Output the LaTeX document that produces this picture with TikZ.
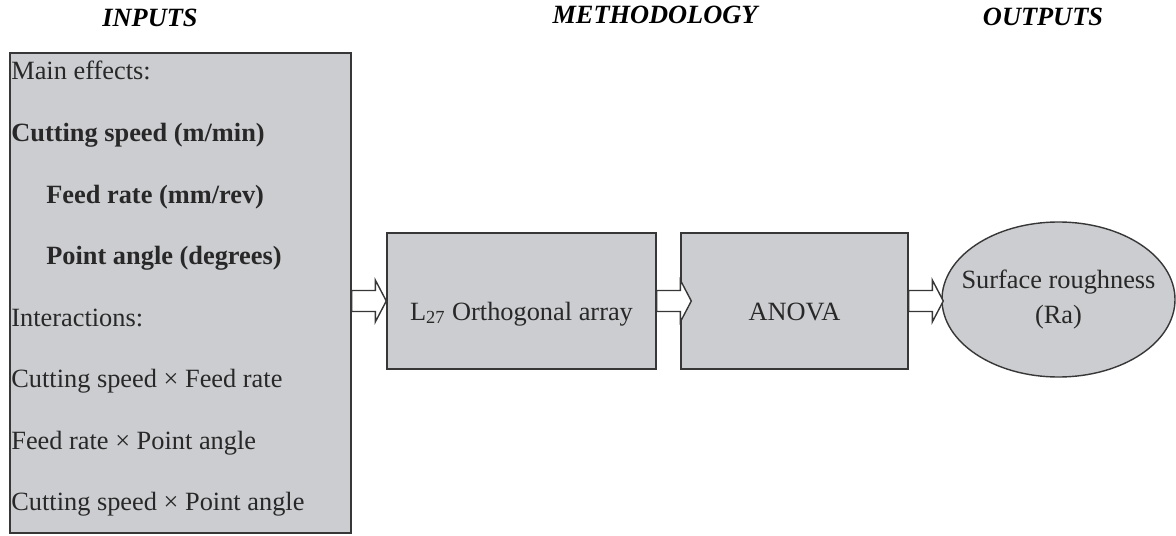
\documentclass[tikz,border=0pt]{standalone}
\usepackage{fontspec}
\setmainfont{Liberation Serif}
\usetikzlibrary{positioning,calc}
\usetikzlibrary{shapes.geometric}

\definecolor{boxgray}{RGB}{204,205,208}
\definecolor{framegray}{RGB}{55,55,55}
\definecolor{textgray}{RGB}{40,40,40}

\tikzset{
  greybox/.style={draw=framegray,fill=boxgray,line width=0.8pt,inner sep=0pt},
  title/.style={font=\fontsize{15}{18}\selectfont\bfseries\itshape,text=black},
  entry/.style={anchor=base west,inner sep=0pt,font=\fontsize{15}{18}\selectfont,text=textgray},
  boxtext/.style={text=textgray,font=\fontsize{15}{18}\selectfont,text height=0.76cm,text depth=0pt},
  fatarrow/.style={draw=framegray,fill=white,line width=0.8pt,line join=miter,
    to path={let \p1=(\tikztostart), \p2=(\tikztotarget) in
      (\x1,\y1+0.21cm) -- (\x2-0.22cm,\y1+0.21cm) -- (\x2-0.22cm,\y1+0.42cm)
      -- (\x2,\y1) -- (\x2-0.22cm,\y1-0.42cm) -- (\x2-0.22cm,\y1-0.21cm)
      -- (\x1,\y1-0.21cm) -- cycle}}
}

\begin{document}
\begin{tikzpicture}
  \useasboundingbox (0,0) rectangle (23.52,10.7);

  % headings
  \node[title] (tin) at (3.0,10.34) {INPUTS};
  \node[title] (tmeth) at (13.10,10.40) {METHODOLOGY};
  \node[title] (tout) at (20.86,10.36) {OUTPUTS};

  % inputs
  \node[greybox,minimum width=6.82cm,minimum height=9.6cm] (inputs) at (3.61,4.84) {};
  \node[entry] (main) at (0.22,9.10) {Main effects:};
  \node[entry,font=\fontsize{15}{18}\selectfont\bfseries] (speed) at (0.22,7.87) {Cutting speed (m/min)};
  \node[entry,font=\fontsize{15}{18}\selectfont\bfseries] (feed) at (0.92,6.64) {Feed rate (mm/rev)};
  \node[entry,font=\fontsize{15}{18}\selectfont\bfseries] (angle) at (0.92,5.41) {Point angle (degrees)};
  \node[entry] (inter) at (0.22,4.18) {Interactions:};
  \node[entry] (sxf) at (0.22,2.95) {Cutting speed \texttimes{} Feed rate};
  \node[entry] (fxa) at (0.22,1.72) {Feed rate \texttimes{} Point angle};
  \node[entry] (sxa) at (0.22,0.49) {Cutting speed \texttimes{} Point angle};

  % methodology
  \node[greybox,boxtext,minimum width=5.38cm,minimum height=2.72cm] (ortho) at (10.43,4.68) {L\textsubscript{27} Orthogonal array};
  \node[greybox,boxtext,minimum width=4.54cm,minimum height=2.72cm] (anova) at (15.89,4.68) {ANOVA};

  % output
  \node[greybox,ellipse,minimum width=4.66cm,minimum height=3.10cm] (ra) at (21.17,4.71) {};
  \node[align=center,text=textgray,font=\fontsize{15}{20.4}\selectfont] (ratext) at (ra.center) {Surface roughness\\(Ra)};

  % arrows
  \draw[fatarrow] (inputs.east |- ortho.west) to (ortho.west);
  \draw[fatarrow] (ortho.east) to ($(anova.west)+(0.22,0)$);
  \draw[fatarrow] (anova.east) to ($(ra.west |- anova.east)+(0.04,0)$);
\end{tikzpicture}
\end{document}
